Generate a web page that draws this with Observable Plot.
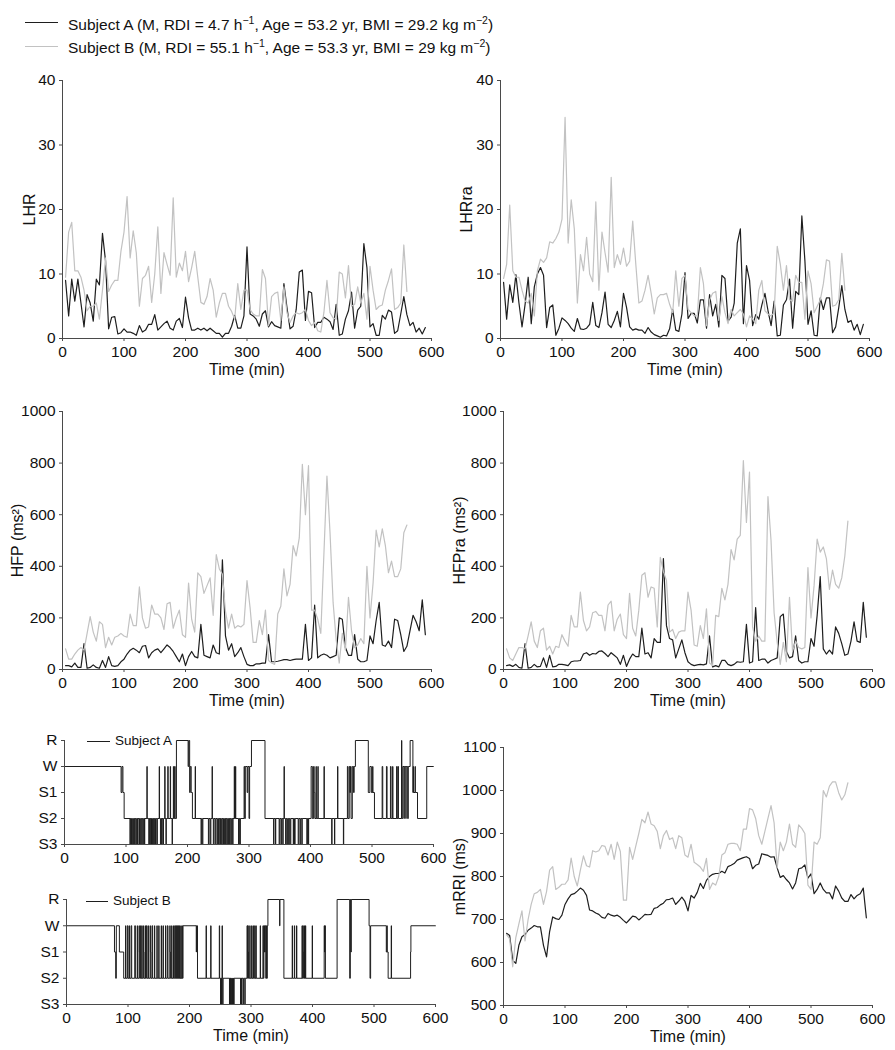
<!DOCTYPE html>
<html><head><meta charset="utf-8">
<script src="https://cdn.jsdelivr.net/npm/d3@7"></script>
<script src="https://cdn.jsdelivr.net/npm/@observablehq/plot@0.6"></script>
<style>
body{margin:0;background:#fff;}
#wrap{position:relative;width:895px;height:1050px;font-family:"Liberation Sans",Arial,sans-serif;color:#111;}
.panel{position:absolute;}
.leg{position:absolute;font-size:15.5px;white-space:nowrap;line-height:1;}
.leg sup{font-size:10.5px;vertical-align:6px;line-height:0;}
.sw{position:absolute;height:0;}
.hl{position:absolute;font-size:13.5px;white-space:nowrap;line-height:1;}
</style></head><body><div id="wrap"></div>
<script>
// ---------- data ----------
const timeA = d3.range(5, 595, 5);   // Subject A samples, every 5 min (5..590)
const timeB = d3.range(5, 565, 5);   // Subject B samples, every 5 min (5..560)
const xTicks = [0, 100, 200, 300, 400, 500, 600];

const lhrA = [9,3.5,9.2,5.8,9.2,5.5,1.8,6.8,5.5,2.7, 9.2,8.3,16.3,12,1.5,3.3,3.4,0.7,0.9,1.5,
 1.0,1.0,0.8,0.5,2.0,1.0,1.3,2.2,2.2,3.7, 1.3,1.8,2.3,2.7,1.6,1.3,2.7,3.1,1.7,6.4,
 3.2,1.3,1.3,1.6,1.3,1.6,1.2,1.6,1.2,0.8, 0.8,0.2,0.8,0.8,1.9,3.6,1.6,1.6,3.5,14.2,
 3.8,3.5,3.0,1.9,3.8,4.3,1.8,2.6,2.0,1.8, 1.6,8.5,4.8,1.5,1.9,4.5,10.3,10.6,2.8,7.3,
 7.1,1.7,2.5,2.5,3.3,3.0,2.6,1.4,5.3,0.5, 0.7,3.0,4.3,7.2,1.6,4.4,5.0,14.7,11,1.8,
 2.3,0.5,0.5,3.6,3.0,4.4,4.1,0.8,1.2,3.8, 6.5,3.7,2.0,2.5,1.0,1.6,0.7,1.7];
const lhrB = [9.5,16.5,18,10.5,10.5,9.5,7.5,4.3,5.0,5.0, 5.5,3.0,7.5,12.5,7.3,8.3,9.0,9.0,13.5,16.5,
 22,12.5,16.7,13.3,5.0,9.3,9.8,11.2,5.6,10, 17.3,7.0,13.3,11.5,9.8,21.8,9.5,11.7,10.5,13.5,
 8.8,11,13.5,9.5,5.6,5.3,6.5,9.3,7.5,3.3, 5.5,7.0,7.0,5.0,4.2,3.0,8.5,4.5,7.5,7.5,
 4.5,3.8,3.5,3.5,10.7,9.3,2.0,6.5,7.0,7.2, 2.8,8.0,4.0,2.5,3.5,4.0,3.8,4.0,4.5,2.8,
 2.0,2.5,1.2,1.0,4.0,9.0,4.0,3.2,3.0,10.3, 10.0,6.3,11.3,5.0,5.3,8.0,5.5,7.0,3.0,11.2,
 7.5,4.5,5.0,5.2,7.5,9.0,10.8,4.5,4.8,5.5, 14.5,7.3];

const lhrraA = [8.7,3.0,8.3,5.6,9.9,5.5,1.8,5.3,9.5,2.3, 8.0,10,11,9.8,1.7,4.8,5.2,0.5,1.6,3.2,
 2.8,2.3,1.6,1.1,3.1,1.5,1.4,1.6,2.2,5.6, 2.0,1.7,4.0,7.2,2.2,1.7,2.8,4.2,1.8,7.0,
 4.8,1.8,1.3,1.5,1.3,1.3,0.8,1.7,1.0,0.6, 0.4,0.2,0.5,0.4,1.5,4.5,1.3,1.1,3.8,10.2,
 3.1,3.9,3.9,2.4,6.0,6.0,1.6,6.8,3.5,5.3, 1.8,9.8,9.3,2.7,3.3,5.5,14.8,17,2.3,11.3,
 9.0,2.0,3.7,3.0,5.2,7.0,4.3,2.0,5.8,0.4, 0.5,5.2,6.0,9.2,1.6,7.3,6.8,19,12,2.2,
 4.3,0.5,0.4,6.3,4.5,6.3,6.3,0.9,1.8,4.8, 8.2,4.5,2.5,2.8,1.3,2.2,0.6,2.2];
const lhrraB = [9.3,11.5,20.7,10.5,9.5,9.5,7.5,5.8,5.5,7.0, 3.5,10.5,12.3,11.8,12.5,15.0,14.8,15.5,16.5,18.5,
 34.3,14.8,21.5,17,5.5,13,10.5,15.7,10,8.8, 21.2,7.5,16.5,13.3,10.3,25,11,13,11.5,14,
 11.2,12,18.2,11.5,5.5,5.8,7.5,9.8,7.0,3.8, 6.3,6.8,6.8,7.0,5.3,4.0,10.5,5.0,9.3,9.8,
 4.5,4.0,3.5,3.5,11.0,8.5,2.0,6.0,7.0,7.3, 2.8,6.5,4.0,2.3,4.5,3.5,4.0,4.5,3.8,1.8,
 3.5,3.0,2.3,7.5,9.0,4.3,3.8,3.5,4.0,14.3, 11.5,7.5,11.3,6.0,5.8,9.8,8.7,8.7,3.0,10.5,
 8.5,4.0,5.0,6.0,8.5,12.2,12.0,5.0,5.2,6.0, 13.2,7.5];

const hfpA = [15,15,10,25,8,8,100,5,8,18, 8,5,35,8,50,15,12,15,30,40,
 60,75,82,75,65,90,93,45,65,75, 80,65,80,95,85,70,50,30,60,15,
 50,70,50,45,175,55,50,45,95,65, 60,425,130,75,100,50,65,85,50,20,
 15,15,22,22,25,25,135,30,30,32, 35,38,38,35,38,40,40,40,175,35,
 45,250,45,55,60,55,45,50,55,200, 195,85,55,55,135,40,30,30,35,130,
 100,190,260,95,90,110,85,195,190,135, 70,90,150,210,185,150,270,135];
const hfpB = [80,40,40,60,75,85,75,140,205,145, 110,185,175,85,125,95,125,130,140,130,
 125,215,170,170,320,200,160,165,250,215, 215,200,155,255,260,160,200,230,135,125,
 335,195,145,375,360,295,325,355,210,445, 390,370,225,160,215,160,170,165,175,345,
 240,105,105,190,135,230,35,25,20,215, 245,390,285,330,480,440,510,795,600,790,
 230,230,195,140,445,750,530,260,115,25, 140,75,280,150,85,95,120,100,400,200,
 335,540,475,545,480,375,420,360,360,390, 530,560];

const hfpraA = [15,18,12,20,8,5,100,5,8,20, 10,12,45,8,55,10,12,20,20,18,
 15,30,33,33,35,60,65,55,62,60, 70,72,62,50,65,55,45,20,55,12,
 40,60,50,50,160,60,65,45,120,105, 105,430,170,120,115,45,80,115,65,30,
 20,15,18,20,18,22,130,10,15,10, 35,35,20,15,20,30,28,30,175,25,
 30,240,35,40,40,25,35,40,45,205, 215,70,45,50,130,35,25,30,30,120,
 90,210,360,80,60,75,60,165,140,100, 55,60,110,185,110,105,260,125];
const hfpraB = [80,45,35,60,85,85,80,130,185,110, 85,150,160,75,90,60,90,85,135,110,
 90,210,165,165,300,190,150,165,220,225, 210,210,150,250,265,150,195,215,135,120,
 295,160,130,230,365,375,280,320,315,165, 435,380,345,145,155,120,145,150,150,300,
 230,95,90,170,120,235,25,15,210,205, 315,270,330,465,425,505,520,810,570,765,
 165,110,130,110,110,670,500,220,105,20, 105,30,280,70,110,85,80,85,395,200,
 325,505,455,475,430,310,385,330,315,355, 440,575];

const mrriA = [668,663,605,598,640,660,665,675,680,686, 683,683,640,613,672,706,702,700,710,735,
 748,758,760,766,773,768,756,722,720,715, 712,705,703,714,710,708,710,705,698,692,
 700,708,706,699,705,712,711,712,726,728, 734,738,746,747,750,735,743,752,742,720,
 756,750,763,784,772,791,800,805,807,807, 812,808,823,826,830,838,841,844,846,842,
 818,826,829,853,851,849,845,846,820,798, 802,793,785,771,785,818,820,827,796,806,
 760,770,785,770,762,762,748,778,766,750, 742,742,758,748,756,760,773,704];
const mrriB = [665,655,590,658,690,720,650,700,735,760, 763,770,735,765,815,823,770,775,782,782,
 792,843,800,778,815,848,825,822,860,857, 860,872,870,850,875,840,880,858,745,745,
 868,840,870,900,933,925,950,922,918,905, 865,895,907,886,890,865,895,890,850,845,
 875,833,828,822,812,842,770,785,780,800, 850,855,875,877,877,875,860,910,910,958,
 955,935,895,875,905,935,965,925,820,880, 860,880,922,875,868,920,912,900,780,770,
 880,875,890,1000,985,1010,1020,1020,995,978, 990,1018];

// hypnograms: [start time (min), stage]
const stageNames = ["S3", "S2", "S1", "W", "R"];
const hypnoA = [[0,"W"],[92,"S1"],[93.5,"W"],[95,"S1"],[97,"S2"],
 [106.5,"S3"],[107,"S2"],[108,"S3"],[109,"S2"],[110,"S3"],[111,"S2"],[112,"S3"],[113,"S2"],[114,"S3"],[115,"S2"],
 [116.5,"S3"],[117.5,"S2"],[118.5,"S3"],[119,"S2"],[121,"S3"],[122,"S2"],[123,"S3"],[124,"S2"],[125.5,"S3"],[126.5,"S2"],
 [128,"S3"],[129,"S2"],[130,"S3"],[130.5,"S2"],[134,"W"],[134.5,"S2"],[137,"S3"],[138,"S2"],[139,"S3"],[139.5,"S2"],
 [141,"S3"],[141.5,"S2"],[143,"S3"],[144,"S2"],[145,"S3"],[146,"S2"],[147,"S3"],[148,"S2"],[150,"S3"],[151,"S2"],
 [154,"W"],[154.5,"S2"],[156,"S3"],[157,"S2"],[158,"S3"],[158.5,"S2"],[160,"S3"],[161,"S2"],[163,"W"],[163.5,"S2"],
 [165,"S3"],[165.5,"S2"],[168,"W"],[168.5,"S2"],[172,"W"],[172.5,"S2"],[175,"S3"],[175.5,"S2"],[177,"W"],[177.5,"S2"],
 [179,"W"],[180,"S2"],[182,"R"],[201,"W"],[202,"R"],[203.5,"S1"],[204.5,"W"],[206,"S1"],[208,"S2"],[212.5,"W"],[213,"S2"],
 [222,"S3"],[223,"S2"],[224,"S3"],[225,"S2"],[234,"S3"],[235,"S2"],[237,"S3"],[238,"S2"],[240,"W"],[240.5,"S2"],
 [242,"S3"],[243,"S2"],[245,"S3"],[246,"S2"],[248,"S3"],[249,"S2"],[250.5,"S3"],[251.5,"S2"],[253,"S3"],[253.5,"S2"],
 [255,"S3"],[256,"S2"],[257.5,"S3"],[258.5,"S2"],[260,"S3"],[261,"S2"],[262,"S3"],[263,"S2"],[264.5,"S3"],[265.5,"S2"],
 [266.5,"S3"],[267.5,"S2"],[268.5,"S3"],[269.5,"S2"],[271,"S3"],[272,"S2"],[273.5,"S3"],[274,"S2"],[276,"W"],[276.5,"S2"],
 [278,"W"],[278.5,"S2"],[283,"S3"],[284,"S2"],[285,"S3"],[286,"S2"],[292,"W"],[293,"S2"],[294,"W"],[297,"S1"],[298,"W"],
 [300,"S2"],[301,"W"],[304,"R"],[326,"S2"],
 [340,"S3"],[340.5,"S2"],[343,"S3"],[343.5,"S2"],[349,"S3"],[350,"S2"],[352,"S3"],[353,"S2"],[355,"S3"],[355.5,"S2"],
 [357,"W"],[357.5,"S2"],[359.5,"S3"],[360.5,"S2"],[362,"S3"],[363,"S2"],[364.5,"S3"],[365.5,"S2"],[367,"S3"],[368,"S2"],
 [372,"S3"],[372.5,"S2"],[374,"S3"],[375,"S2"],[380,"S3"],[381,"S2"],[383,"S3"],[384,"S2"],[386,"S3"],[386.5,"S2"],
 [394,"S3"],[395,"S2"],[396.5,"S3"],[397,"S2"],[401,"W"],[403,"S2"],[405,"W"],[406,"S1"],[407,"S2"],[409,"W"],[409.5,"S2"],
 [412,"W"],[412.5,"S2"],[422,"W"],[422.5,"S2"],[434.5,"S3"],[435,"S2"],[439,"S3"],[439.5,"S2"],[444,"W"],[444.5,"S2"],
 [453.5,"S3"],[454,"S2"],[460,"W"],[461,"S2"],[463,"W"],[464,"S1"],[465,"W"],[466,"S2"],[468,"W"],[470,"S1"],[471,"W"],
 [473,"R"],[494,"S1"],[496.5,"W"],[499,"S1"],[501,"W"],[501.5,"S1"],[504,"S2"],[516.5,"W"],[517.5,"S2"],[523.5,"W"],
 [524.5,"S2"],[530,"W"],[531,"S2"],[533.5,"W"],[534,"S2"],[540,"W"],[540.5,"S2"],[542,"W"],[543,"S2"],[548,"R"],[548.5,"S2"],
 [550,"W"],[552,"S2"],[552.5,"W"],[555,"S2"],[555.5,"W"],[558,"S2"],[559,"W"],[562,"R"],[566.5,"S1"],[567,"W"],[567.5,"S1"],
 [570,"W"],[570.5,"S1"],[574,"S2"],[589,"W"],[600,"W"]];
const hypnoB = [[0,"W"],[78,"S1"],[80,"S2"],[81,"W"],[86,"S1"],[93,"S2"],
 [96,"W"],[96.5,"S2"],[99,"W"],[100,"S2"],[102,"W"],[102.5,"S2"],[105,"W"],[106,"S2"],[111,"W"],[112,"S2"],[115,"W"],[115.5,"S2"],
 [118,"W"],[118.5,"S1"],[119,"S2"],[120.5,"W"],[121,"S2"],[122.5,"W"],[123,"S2"],[125,"W"],[125.5,"S1"],[126,"S2"],
 [128,"W"],[128.5,"S2"],[130,"W"],[131,"S2"],[133,"W"],[133.5,"S2"],[136,"W"],[136.5,"S1"],[137,"S2"],[139,"W"],[140,"S2"],
 [143,"W"],[143.5,"S2"],[147,"W"],[147.5,"S2"],[150,"W"],[150.5,"S2"],[154,"W"],[154.5,"S2"],[157,"W"],[157.5,"S2"],
 [161,"W"],[161.5,"S2"],[164,"W"],[165,"S2"],[168,"W"],[168.5,"S1"],[169,"S2"],[171,"W"],[171.5,"S2"],[174,"W"],[174.5,"S2"],
 [176,"W"],[177,"S2"],[178,"W"],[178.5,"S2"],[179.5,"W"],[180,"S2"],[181,"W"],[181.5,"S2"],[182.5,"W"],[183,"S2"],
 [184,"W"],[184.5,"S2"],[186,"W"],[186.5,"S2"],[188,"W"],[188.5,"S2"],[189.5,"W"],[211,"S1"],[211.5,"W"],[213,"S2"],
 [227,"W"],[227.5,"S2"],[234.5,"W"],[235,"S2"],[248.5,"W"],[249,"S2"],[250.5,"S3"],[251,"S2"],[252,"S3"],[252.5,"S2"],
 [253,"W"],[253.5,"S2"],[254,"S3"],[254.5,"S2"],[265,"S3"],[265.5,"S2"],[266.5,"S3"],[267,"S2"],[267.5,"S3"],[268.5,"S2"],
 [269,"S3"],[270,"S2"],[270.5,"S3"],[271.5,"S2"],[272,"S3"],[272.5,"S2"],[283,"S3"],[283.5,"S2"],[284.5,"S3"],[285,"S2"],
 [287,"S3"],[288,"S2"],[290,"S3"],[290.5,"S2"],[293.5,"W"],[294.5,"S2"],[295,"W"],[295.5,"S1"],[296,"S2"],[298,"W"],
 [298.5,"S2"],[301,"W"],[301.5,"S2"],[303.5,"W"],[304,"S2"],[306,"W"],[306.5,"S2"],[308,"W"],[308.5,"S2"],[315,"W"],
 [315.5,"S2"],[319.5,"W"],[320,"S2"],[321,"W"],[322,"S1"],[323,"W"],[324,"S2"],[325,"W"],[325.5,"S2"],[326.5,"W"],
 [327.5,"R"],[346.5,"W"],[347,"R"],[353.5,"S2"],[367,"W"],[367.5,"S2"],[370.5,"W"],[371,"S2"],[374,"W"],[374.5,"S2"],
 [383,"W"],[383.5,"S2"],[384.5,"W"],[385,"S1"],[385.5,"S2"],[387,"W"],[387.5,"S2"],[388.5,"W"],[389,"S2"],[399.5,"W"],
 [400,"S2"],[419,"W"],[419.5,"S1"],[420,"W"],[421,"S2"],[440,"R"],[460.5,"S2"],[461.5,"R"],[462.5,"S1"],[463,"R"],
 [492,"W"],[493.5,"S2"],[494.5,"W"],[520,"S1"],[521,"W"],[521.5,"S1"],[523,"S2"],[528,"W"],[528.5,"S2"],[559.5,"S1"],
 [560,"W"],[600,"W"]];

// ---------- drawing ----------
const BLACK = "#1e1e1e", GRAY = "#c2c2c2", AXIS = "#4a4a4a";
const FONT = "Liberation Sans, Arial, sans-serif";
const wrap = document.getElementById("wrap");

function toRows(t, v) { return t.map((x, i) => ({t: x, v: v[i]})); }

function panel(o) {
  const marks = [
    Plot.axisX({ticks: xTicks, tickSize: 3, tickPadding: 4, label: null, stroke: AXIS, fill: "#111"}),
    Plot.axisY({ticks: o.yTicks, tickSize: 3, tickPadding: 4, label: null, stroke: AXIS, fill: "#111",
                tickFormat: o.yFormat || (d => String(d))}),
    ...o.lines,
    Plot.ruleX([0], {stroke: AXIS, strokeWidth: 1}),
    Plot.ruleY([o.yDomain[0]], {stroke: AXIS, strokeWidth: 1}),
  ];
  if (o.yLabel) marks.push(Plot.text([o.yLabel], {frameAnchor: "left", rotate: -90, dx: -o.labelDx, fontSize: 16, fill: "#111", textAnchor: "middle"}));
  if (o.timeLabel) marks.push(Plot.text(["Time (min)"], {frameAnchor: "bottom", dy: o.timeDy || 36, fontSize: 16, fill: "#111"}));
  const p = Plot.plot({
    width: o.width, height: o.height,
    marginLeft: o.ml, marginRight: o.mr, marginTop: o.mt, marginBottom: o.mb,
    style: {fontFamily: FONT, fontSize: "15.5px", color: "#111", background: "white", overflow: "visible"},
    x: {domain: [0, 600]},
    y: {domain: o.yDomain},
    marks
  });
  p.classList.add("panel");
  p.style.left = o.left + "px"; p.style.top = o.top + "px";
  p.style.position = "absolute";
  wrap.appendChild(p);
}

function twoLines(a, b) {
  return [
    Plot.line(toRows(timeA, a), {x: "t", y: "v", stroke: BLACK, strokeWidth: 1.2}),
    Plot.line(toRows(timeB, b), {x: "t", y: "v", stroke: GRAY, strokeWidth: 1.2}),
  ];
}

panel({left: 0, top: 60, width: 445, height: 320, ml: 62, mr: 14, mt: 20, mb: 42,
  yDomain: [0, 40], yTicks: [0, 10, 20, 30, 40], yLabel: "LHR", labelDx: 33, timeLabel: true,
  lines: twoLines(lhrA, lhrB)});
panel({left: 445, top: 60, width: 450, height: 320, ml: 55, mr: 26, mt: 20, mb: 42,
  yDomain: [0, 40], yTicks: [0, 10, 20, 30, 40], yLabel: "LHRra", labelDx: 34, timeLabel: true,
  lines: twoLines(lhrraA, lhrraB)});
panel({left: 0, top: 380, width: 445, height: 340, ml: 62, mr: 14, mt: 31, mb: 51,
  yDomain: [0, 1000], yTicks: [0, 200, 400, 600, 800, 1000], yLabel: "HFP (ms²)", labelDx: 45, timeLabel: true,
  lines: twoLines(hfpA, hfpB)});
panel({left: 445, top: 380, width: 450, height: 340, ml: 58, mr: 23, mt: 31, mb: 51,
  yDomain: [0, 1000], yTicks: [0, 200, 400, 600, 800, 1000], yLabel: "HFPra (ms²)", labelDx: 44, timeLabel: true,
  lines: twoLines(hfpraA, hfpraB)});
panel({left: 445, top: 720, width: 450, height: 330, ml: 58, mr: 23, mt: 27, mb: 45,
  yDomain: [500, 1100], yTicks: [500, 600, 700, 800, 900, 1000, 1100], yLabel: "mRRI (ms)", labelDx: 44, timeLabel: true,
  lines: twoLines(mrriA, mrriB)});

function hypRows(h) { return h.map(([t, s]) => ({t, v: stageNames.indexOf(s)})); }
const stageFmt = d => stageNames[d];
panel({left: 0, top: 720, width: 445, height: 150, ml: 64, mr: 12, mt: 20, mb: 26,
  yDomain: [0, 4], yTicks: [0, 1, 2, 3, 4], yFormat: stageFmt, timeLabel: false,
  lines: [Plot.line(hypRows(hypnoA), {x: "t", y: "v", curve: "step-after", stroke: BLACK, strokeWidth: 1})]});
panel({left: 0, top: 880, width: 445, height: 170, ml: 66, mr: 10, mt: 19, mb: 46,
  yDomain: [0, 4], yTicks: [0, 1, 2, 3, 4], yFormat: stageFmt, timeLabel: true, timeDy: 36,
  lines: [Plot.line(hypRows(hypnoB), {x: "t", y: "v", curve: "step-after", stroke: BLACK, strokeWidth: 1})]});

// ---------- legends ----------
function addLine(x1, x2, y, color, w) {
  const d = document.createElement("div");
  d.className = "sw";
  d.style.left = x1 + "px"; d.style.top = y + "px"; d.style.width = (x2 - x1) + "px";
  d.style.borderTop = w + "px solid " + color;
  wrap.appendChild(d);
}
function addText(cls, x, y, html) {
  const d = document.createElement("div");
  d.className = cls; d.style.left = x + "px"; d.style.top = y + "px";
  d.innerHTML = html; wrap.appendChild(d);
}
addLine(25, 58, 22, BLACK, 1.3);
addText("leg", 68, 17, "Subject A (M, RDI = 4.7 h<sup>−1</sup>, Age = 53.2 yr, BMI = 29.2 kg m<sup>−2</sup>)");
addLine(25, 58, 46, GRAY, 1.3);
addText("leg", 68, 40, "Subject B (M, RDI = 55.1 h<sup>−1</sup>, Age = 53.3 yr, BMI = 29 kg m<sup>−2</sup>)");
addLine(87, 110, 741, BLACK, 1);
addText("hl", 115, 734, "Subject A");
addLine(86, 108, 901, BLACK, 1);
addText("hl", 113, 894, "Subject B");
</script></body></html>
